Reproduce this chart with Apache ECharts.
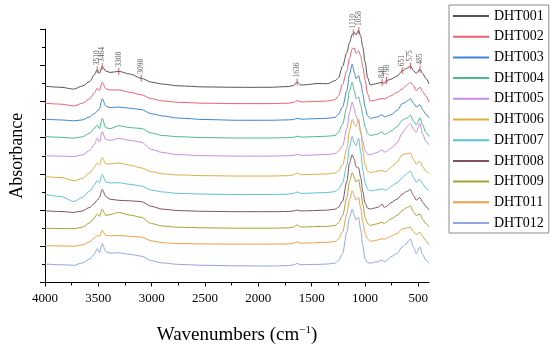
<!DOCTYPE html>
<html><head><meta charset="utf-8">
<script src="https://cdn.jsdelivr.net/npm/echarts@6/dist/echarts.min.js"></script>
<style>html,body{margin:0;padding:0;background:#fff}#c{width:550px;height:350px}</style>
</head><body><div id="c"></div>
<script>
const wavenumbers = [4000,3850,3730,3650,3580,3540,3510,3490,3464,3430,3390,3310,3200,3100,3000,2900,2750,2500,2200,1900,1720,1670,1636,1600,1540,1450,1350,1280,1250,1210,1170,1145,1120,1100,1085,1060,1040,1020,1000,975,950,920,880,840,820,798,760,700,651,620,600,575,545,520,485,460,430,400];
const seriesNames = ['DHT001','DHT002','DHT003','DHT004','DHT005','DHT006','DHT007','DHT008','DHT009','DHT011','DHT012'];
const dht001 = [10.84,10.78,10.68,10.85,11.1,11.45,11.75,11.55,11.93,11.68,11.6,11.66,11.51,11.28,11.06,10.96,10.86,10.8,10.78,10.78,10.82,10.88,11.07,10.9,10.93,10.99,10.98,11.15,11.3,11.95,12.7,13.25,13.7,13.82,13.68,13.92,13.6,13.0,12.2,11.3,10.9,10.95,11.0,11.05,11.0,11.15,11.22,11.4,11.69,11.8,11.85,11.96,11.7,11.55,11.78,11.55,11.28,10.97];
const dht002 = [9.9,9.85,9.75,9.9,10.15,10.45,10.73,10.6,11.06,10.7,10.63,10.64,10.5,10.37,10.15,10.03,9.95,9.9,9.88,9.88,9.9,9.95,10.05,9.97,9.98,10.0,10.02,10.1,10.3,10.95,11.7,12.4,12.9,12.95,12.65,12.78,12.5,11.9,11.2,10.4,10.02,10.05,10.1,10.17,10.12,10.2,10.3,10.5,10.69,10.85,10.95,11.06,10.85,10.6,10.78,10.55,10.3,9.97];
const dht003 = [9.02,8.98,8.93,8.98,9.15,9.32,9.45,9.6,10.15,9.75,9.66,9.69,9.62,9.55,9.32,9.2,9.08,9.0,8.96,8.96,8.98,9.0,9.07,9.02,9.03,9.05,9.07,9.12,9.3,9.7,10.6,11.5,12.06,11.6,11.25,11.42,11.0,10.4,9.7,9.2,9.06,9.1,9.15,9.27,9.15,9.18,9.25,9.5,9.87,9.95,10.05,10.15,9.9,9.7,9.82,9.55,9.3,9.09];
const dht004 = [8.06,8.02,7.97,8.05,8.25,8.5,8.69,8.5,9.06,8.55,8.5,8.66,8.55,8.51,8.25,8.12,8.05,8.0,7.98,7.98,8.0,8.02,8.08,8.03,8.04,8.06,8.08,8.12,8.3,8.75,9.7,10.6,11.06,10.6,10.15,10.24,9.8,9.2,8.6,8.22,8.12,8.15,8.2,8.33,8.18,8.22,8.35,8.6,8.96,9.05,9.1,9.24,8.9,8.7,9.09,8.7,8.3,8.06];
const dht005 = [7.0,6.98,6.96,7.05,7.3,7.6,7.96,7.75,8.33,7.9,7.85,7.96,7.85,7.75,7.35,7.18,7.06,7.0,6.98,6.98,7.0,7.02,7.08,7.02,7.03,7.05,7.07,7.12,7.25,7.55,8.5,9.4,9.97,9.6,9.2,8.9,8.3,7.8,7.3,7.08,7.06,7.12,7.2,7.33,7.2,7.25,7.4,7.7,8.24,8.5,8.65,8.78,8.45,8.3,8.78,8.2,7.8,7.6];
const dht006 = [5.85,5.8,5.62,5.75,6.05,6.35,6.6,6.5,6.91,6.55,6.55,6.6,6.48,6.33,6.12,6.0,5.94,5.9,5.88,5.88,5.9,5.95,6.05,5.95,5.96,5.98,6.0,6.05,6.15,6.5,7.4,8.4,9.0,8.75,8.6,9.0,8.3,7.3,6.5,6.15,6.06,6.1,6.15,6.2,6.12,6.15,6.35,6.65,7.05,7.1,7.12,7.15,6.8,6.55,6.69,6.4,6.15,6.0];
const dht007 = [4.87,4.75,4.47,4.7,5.05,5.35,5.64,5.5,5.96,5.55,5.5,5.51,5.42,5.33,5.1,5.0,4.92,4.88,4.86,4.86,4.88,4.92,5.0,4.92,4.93,4.95,4.97,5.02,5.15,5.5,6.5,7.5,8.06,7.7,7.55,7.96,7.2,6.2,5.5,5.15,5.06,5.08,5.12,5.17,5.1,5.12,5.3,5.5,5.78,5.95,6.05,6.15,5.8,5.55,5.69,5.45,5.2,5.06];
const dht008 = [3.96,3.92,3.87,3.95,4.15,4.35,4.55,4.7,5.14,4.75,4.6,4.54,4.51,4.47,4.2,4.05,3.97,3.93,3.91,3.91,3.92,3.95,4.0,3.95,3.96,3.98,4.0,4.05,4.15,4.5,5.6,6.6,7.05,6.8,6.4,6.33,5.8,5.0,4.4,4.1,4.05,4.1,4.15,4.33,4.15,4.2,4.4,4.6,4.87,5.0,5.05,5.14,4.8,4.55,4.69,4.45,4.2,4.0];
const dht009 = [3.0,2.98,2.97,3.05,3.3,3.55,3.78,3.65,4.05,3.7,3.75,3.87,3.72,3.6,3.25,3.12,3.05,3.02,3.0,3.0,3.02,3.06,3.18,3.06,3.07,3.09,3.1,3.15,3.3,3.7,4.7,5.6,6.06,5.8,5.55,5.69,5.1,4.3,3.6,3.25,3.15,3.2,3.25,3.33,3.25,3.35,3.5,3.7,3.97,4.1,4.15,4.24,3.9,3.7,3.78,3.5,3.25,3.09];
const dht011 = [2.03,2.02,2.0,2.08,2.25,2.45,2.6,2.55,2.88,2.6,2.58,2.6,2.55,2.51,2.3,2.2,2.15,2.13,2.12,2.12,2.13,2.17,2.25,2.17,2.18,2.2,2.22,2.27,2.4,2.8,3.8,4.6,5.06,4.8,4.55,4.69,4.1,3.3,2.7,2.4,2.28,2.3,2.35,2.42,2.38,2.45,2.55,2.7,2.96,3.0,3.02,3.05,2.8,2.65,2.78,2.55,2.3,2.06];
const dht012 = [1.02,0.98,0.95,1.08,1.3,1.55,1.87,1.65,2.14,1.7,1.62,1.64,1.55,1.46,1.2,1.08,1.0,0.95,0.92,0.91,0.93,0.97,1.05,0.98,0.99,1.0,1.02,1.07,1.2,1.6,2.8,3.6,4.05,3.7,3.45,3.6,2.9,2.0,1.3,1.1,1.06,1.12,1.15,1.24,1.15,1.2,1.42,1.6,1.96,2.1,2.25,2.4,1.95,1.6,1.96,1.55,1.25,1.06];
const xTickValues = [4000,3500,3000,2500,2000,1500,1000,500];
const xMinorTickValues = [3750,3250,2750,2250,1750,1250,750];
const peakLabels = ['3510','3464','3308','3098','1636','1110','1058','840','798','651','575','485'];
const peakPositions = [3510,3464,3308,3098,1636,1110,1058,840,798,651,575,485];
const peakHeights = [11.75,11.93,11.66,11.28,11.07,13.78,13.92,11.05,11.15,11.69,11.96,11.78];

const colors = ['#555555','#f2606e','#3d84d6','#4cb98b','#c98ce0','#e3ac3f','#5cc2d6','#84505e','#a8a232','#ec9f4a','#8ea7e3'];
const FONT = 'Liberation Serif';
const seriesValues = [dht001,dht002,dht003,dht004,dht005,dht006,dht007,dht008,dht009,dht011,dht012];

const series = seriesNames.map((name, i) => ({
  name: name, type: 'line', xAxisIndex: 0, yAxisIndex: 0,
  symbol: 'none', smooth: 0.3, smoothMonotone: 'x',
  lineStyle: { width: 1, color: colors[i] }, itemStyle: { color: colors[i] },
  data: wavenumbers.map((w, j) => [w, seriesValues[i][j]]),
  z: 2
}));
series.push({
  name: 'peaks', type: 'scatter', xAxisIndex: 0, yAxisIndex: 0,
  symbol: 'rect', symbolSize: [1, 7], itemStyle: { color: '#e0303a' },
  data: peakPositions.map((p, i) => [p, peakHeights[i]]),
  label: { show: true, formatter: p => peakLabels[p.dataIndex], position: 'top', rotate: 90,
    align: 'left', verticalAlign: 'middle', distance: 1, fontFamily: FONT, fontSize: 7.5, color: '#333' },
  z: 5
});

const chart = echarts.init(document.getElementById('c'), null, { renderer: 'canvas' });
chart.setOption({
  animation: false,
  backgroundColor: '#fff',
  grid: { left: 36, right: 121, top: 29, bottom: 64 },
  legend: {
    data: seriesNames, orient: 'vertical', left: 449, top: 5,
    padding: [4, 5, 3, 3], itemWidth: 36, itemHeight: 14, itemGap: 6.7,
    borderColor: '#8c8c8c', borderWidth: 1,
    itemStyle: { opacity: 0 },
    textStyle: { fontFamily: FONT, fontSize: 14, color: '#000' }
  },
  xAxis: [{
    type: 'value', min: 400, max: 4000, inverse: true, position: 'bottom',
    axisLine: { show: true, lineStyle: { color: '#000', width: 1 } },
    axisTick: { show: true, customValues: xTickValues, length: 4, lineStyle: { color: '#000' } },
    axisLabel: { customValues: xTickValues, formatter: v => String(v), fontFamily: FONT, fontSize: 13, color: '#000', margin: 10 },
    splitLine: { show: false },
    name: '{a|Wavenumbers (cm}{s|−1}{a|)}', nameLocation: 'middle', nameGap: 42,
    nameTextStyle: { rich: {
      a: { fontFamily: FONT, fontSize: 19, color: '#000', lineHeight: 22 },
      s: { fontFamily: FONT, fontSize: 11, color: '#000', verticalAlign: 'top' }
    } }
  }, {
    type: 'value', min: 400, max: 4000, inverse: true, position: 'bottom',
    axisLine: { show: false },
    axisTick: { show: true, customValues: xMinorTickValues, length: 3, lineStyle: { color: '#000' } },
    axisLabel: { show: false }, splitLine: { show: false }
  }],
  yAxis: {
    type: 'value', min: 0, max: 14, interval: 2,
    axisLine: { show: true, lineStyle: { color: '#000', width: 1 } },
    axisTick: { show: true, length: 5, lineStyle: { color: '#000' } },
    minorTick: { show: true, splitNumber: 2, length: 3, lineStyle: { color: '#000' } },
    axisLabel: { show: false }, splitLine: { show: false },
    name: 'Absorbance', nameLocation: 'middle', nameGap: 19,
    nameTextStyle: { fontFamily: FONT, fontSize: 18, color: '#000' }
  },
  series: series
});
</script></body></html>
